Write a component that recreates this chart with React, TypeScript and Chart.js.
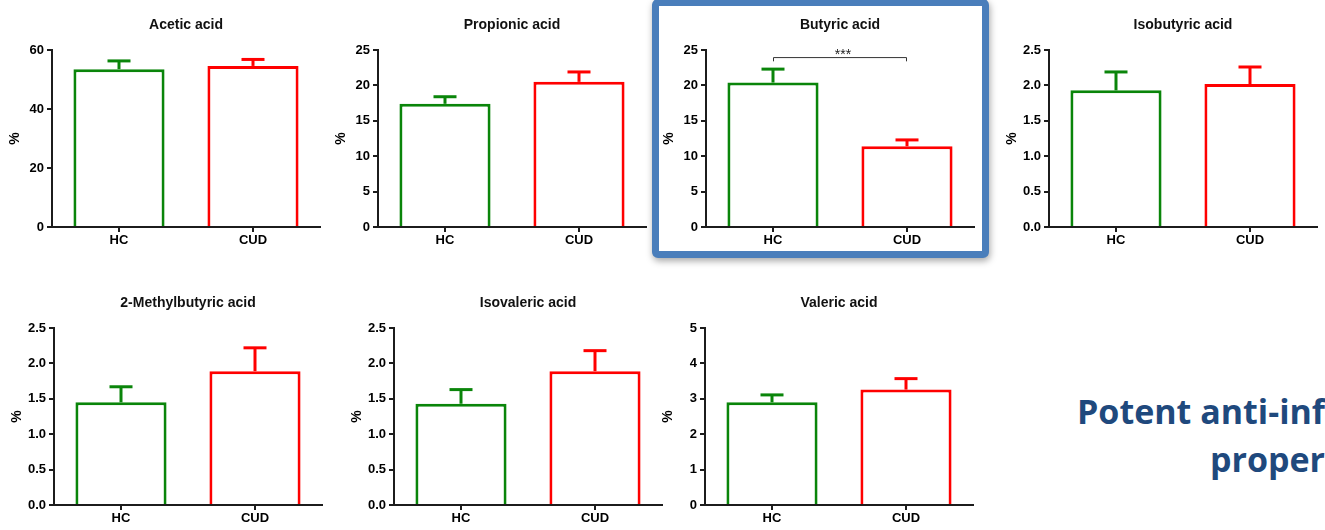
import React, { useEffect, useRef } from 'react';
import { Chart, registerables } from 'chart.js';

Chart.register(...registerables);

const FONT = "'Liberation Sans', Arial, Helvetica, sans-serif";

// ---------- data ----------
const panelTitles = [
  'Acetic acid',
  'Propionic acid',
  'Butyric acid',
  'Isobutyric acid',
  '2-Methylbutyric acid',
  'Isovaleric acid',
  'Valeric acid',
];
const groups = ['HC', 'CUD'];
const hcMeans = [53.5, 17.4, 20.4, 1.93, 1.45, 1.43, 2.9];
const hcSem = [2.8, 1.0, 1.9, 0.26, 0.22, 0.2, 0.21];
const cudMeans = [54.6, 20.5, 11.4, 2.02, 1.89, 1.89, 3.26];
const cudSem = [2.2, 1.4, 0.9, 0.24, 0.33, 0.29, 0.31];
const yMax = [60, 25, 25, 2.5, 2.5, 2.5, 5];
const yStep = [20, 5, 5, 0.5, 0.5, 0.5, 1];
const yDecimals = [0, 0, 0, 1, 1, 1, 0];
const yAxisTitle = '%';
const sigPanel = 2;
const sigLabel = '***';
const sigLevel = 24.0;
const sigDrop = 0.6;
const sideTextLine1 = 'Potent anti-inflammatory';
const sideTextLine2 = 'properties';

// ---------- styling / layout ----------
const GREEN = '#0a850a';
const RED = '#ff0000';
const AXIS = '#1c1c1c';
const groupColors = [GREEN, RED];
const panelLeft = [0, 326, 654, 997, 2, 342, 653];
const panelTop = [0, 0, 0, 0, 278, 278, 278];
const CANVAS_W = 324;
const CANVAS_H = 260;

function makeErrorPlugin(means: number[], sems: number[]) {
  return {
    id: 'errorBars',
    afterDatasetsDraw(chart: any) {
      const { ctx } = chart;
      const meta = chart.getDatasetMeta(0);
      const ys = chart.scales.y;
      ctx.save();
      meta.data.forEach((bar: any, i: number) => {
        const x = bar.x;
        const y0 = ys.getPixelForValue(means[i]);
        const y1 = ys.getPixelForValue(means[i] + sems[i]);
        ctx.strokeStyle = groupColors[i];
        ctx.lineWidth = 3;
        ctx.lineCap = 'butt';
        ctx.beginPath();
        ctx.moveTo(x, y0);
        ctx.lineTo(x, y1);
        ctx.stroke();
        ctx.beginPath();
        ctx.moveTo(x - 11.5, y1);
        ctx.lineTo(x + 11.5, y1);
        ctx.stroke();
      });
      ctx.restore();
    },
  };
}

function makeSigPlugin(enabled: boolean) {
  return {
    id: 'sigBracket',
    afterDatasetsDraw(chart: any) {
      if (!enabled) return;
      const { ctx } = chart;
      const meta = chart.getDatasetMeta(0);
      const ys = chart.scales.y;
      const xa = meta.data[0].x;
      const xb = meta.data[1].x;
      const yl = ys.getPixelForValue(sigLevel);
      const yd = ys.getPixelForValue(sigLevel - sigDrop);
      ctx.save();
      ctx.strokeStyle = '#333';
      ctx.lineWidth = 1;
      ctx.beginPath();
      ctx.moveTo(xa + 0.5, yd);
      ctx.lineTo(xa + 0.5, yl + 0.5);
      ctx.lineTo(xb - 0.5, yl + 0.5);
      ctx.lineTo(xb - 0.5, yd);
      ctx.stroke();
      ctx.fillStyle = '#222';
      ctx.font = `14px ${FONT}`;
      ctx.textAlign = 'center';
      ctx.textBaseline = 'alphabetic';
      ctx.fillText(sigLabel, (xa + xb) / 2 + 3, yl + 1.5);
      ctx.restore();
    },
  };
}

function Panel({ idx }: { idx: number }) {
  const ref = useRef<HTMLCanvasElement | null>(null);
  useEffect(() => {
    if (!ref.current) return;
    const means = [hcMeans[idx], cudMeans[idx]];
    const sems = [hcSem[idx], cudSem[idx]];
    const chart = new Chart(ref.current, {
      type: 'bar',
      data: {
        labels: groups,
        datasets: [
          {
            data: means,
            backgroundColor: '#ffffff',
            borderColor: groupColors,
            borderWidth: 3,
            borderSkipped: 'bottom',
            barPercentage: 0.68,
            categoryPercentage: 1,
          },
        ],
      },
      options: {
        animation: false,
        responsive: false,
        devicePixelRatio: 1,
        layout: { padding: { left: 0, right: 4, top: 0, bottom: 0 } },
        plugins: {
          legend: { display: false },
          tooltip: { enabled: false },
          title: {
            display: true,
            fullSize: false,
            text: panelTitles[idx],
            color: '#111',
            font: { family: FONT, size: 14, weight: 'bold' },
            padding: { top: 16.8, bottom: 16.4 },
          },
        },
        scales: {
          x: {
            grid: {
              display: true,
              drawOnChartArea: false,
              drawTicks: true,
              tickLength: 5,
              offset: false,
              color: AXIS,
              lineWidth: 2,
            },
            border: { display: true, color: AXIS, width: 2 },
            ticks: {
              color: '#000',
              font: { family: FONT, size: 13, weight: 'bold' },
              padding: 1,
            },
            afterFit: (s: any) => {
              s.height = 33;
            },
          },
          y: {
            min: 0,
            max: yMax[idx],
            ticks: {
              stepSize: yStep[idx],
              color: '#000',
              font: { family: FONT, size: 13, weight: 'bold' },
              padding: 3,
              callback: (v: any) => Number(v).toFixed(yDecimals[idx]),
            },
            grid: {
              display: true,
              drawOnChartArea: false,
              drawTicks: true,
              tickLength: 5,
              color: AXIS,
              lineWidth: 2,
            },
            border: { display: true, color: AXIS, width: 2 },
            title: {
              display: true,
              text: yAxisTitle,
              color: '#000',
              font: { family: FONT, size: 14, weight: 'bold' },
              padding: { top: 7, bottom: 0 },
            },
            afterFit: (s: any) => {
              s.width = 52;
            },
          },
        },
      } as any,
      plugins: [makeErrorPlugin(means, sems), makeSigPlugin(idx === sigPanel)],
    });
    return () => chart.destroy();
  }, [idx]);
  return (
    <canvas
      ref={ref}
      width={CANVAS_W}
      height={CANVAS_H}
      style={{
        position: 'absolute',
        left: panelLeft[idx],
        top: panelTop[idx],
        width: CANVAS_W,
        height: CANVAS_H,
      }}
    />
  );
}

export default function App() {
  return (
    <div
      style={{
        position: 'absolute',
        left: 0,
        top: 0,
        width: 1325,
        height: 530,
        overflow: 'hidden',
        background: '#ffffff',
      }}
    >
      <div
        style={{
          position: 'absolute',
          left: 652,
          top: -1,
          width: 337,
          height: 259,
          boxSizing: 'border-box',
          border: '7px solid #4a7ebb',
          borderRadius: 6,
          boxShadow: '1px 3px 7px rgba(0,0,0,0.35)',
          background: '#ffffff',
        }}
      />
      {panelTitles.map((_, i) => (
        <Panel key={i} idx={i} />
      ))}
      <div
        style={{
          position: 'absolute',
          left: 1077,
          top: 387,
          whiteSpace: 'nowrap',
          fontFamily: "'Open Sans', sans-serif",
          fontWeight: 700,
          fontSize: 34,
          lineHeight: '48px',
          color: '#1f497d',
        }}
      >
        {sideTextLine1}
      </div>
      <div
        style={{
          position: 'absolute',
          left: 1210,
          top: 435,
          whiteSpace: 'nowrap',
          fontFamily: "'Open Sans', sans-serif",
          fontWeight: 700,
          fontSize: 34,
          lineHeight: '48px',
          color: '#1f497d',
        }}
      >
        {sideTextLine2}
      </div>
    </div>
  );
}
